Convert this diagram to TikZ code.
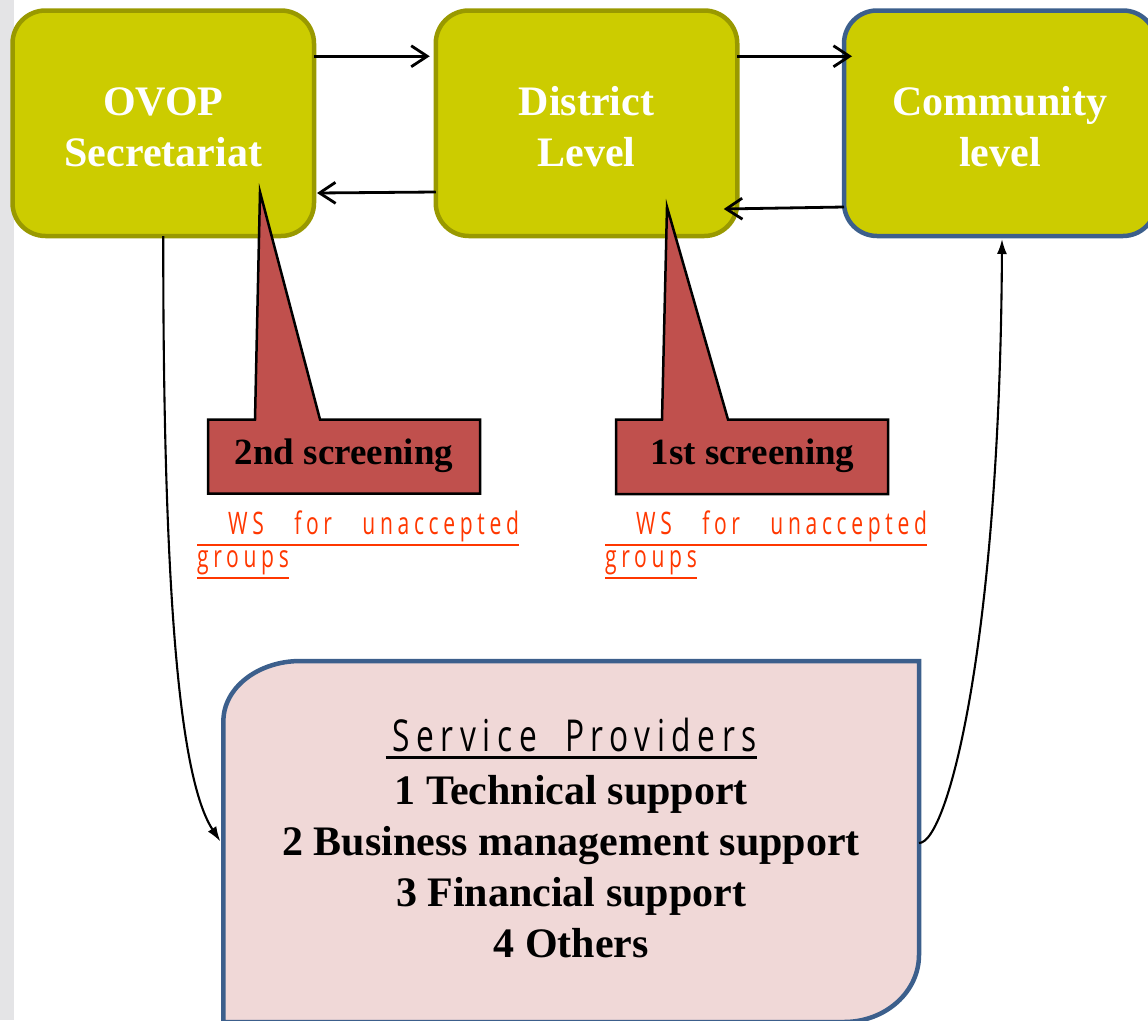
\documentclass[tikz,border=0pt]{standalone}
\usepackage{fontspec}
\setmainfont{Liberation Serif}
\newfontfamily\spfont[FakeStretch=0.72,LetterSpace=15,WordSpace=1.9]{Open Sans}
\newfontfamily\wsfont[FakeStretch=0.68,LetterSpace=15,WordSpace=3.0]{Open Sans}
\usetikzlibrary{arrows.meta,backgrounds}
\definecolor{boxfill}{RGB}{204,204,0}
\definecolor{boxline}{RGB}{153,153,0}
\definecolor{blueline}{RGB}{60,95,140}
\definecolor{callred}{RGB}{192,80,77}
\definecolor{spfill}{RGB}{240,216,215}
\definecolor{wsred}{RGB}{255,55,0}
\definecolor{stripgray}{RGB}{228,228,230}
\newcommand\myul[3][2pt]{\vtop{\hbox{#3}\kern#2\hrule height #1}}
\newcommand\topstrut{\rule{0pt}{35pt}}
\begin{document}
\begin{tikzpicture}[x=1pt,y=-1pt,
  lvl/.style={rounded corners=33pt, line width=4.5pt, fill=boxfill, draw=boxline,
    minimum width=301.5pt, minimum height=225.5pt, text=white,
    font=\bfseries\fontsize{42}{51}\selectfont, align=center, inner sep=0pt, outer sep=0pt},
  flow/.style={line width=2.8pt, -{Straight Barb[length=16pt,width=21pt]}},
  curv/.style={line width=2.1pt, -{Latex[length=15pt,width=10pt]}},
  callout/.style={fill=callred, draw=black, line width=2.5pt, line join=miter},
  calltext/.style={font=\bfseries\fontsize{37}{44}\selectfont, anchor=base, inner sep=0pt},
  wstext/.style={font=\wsfont\fontsize{31}{33}\selectfont, text=wsred, align=left,
    anchor=north west, inner sep=0pt},
  spbox/.style={fill=spfill, draw=blueline, line width=4.5pt}
]
\useasboundingbox (0,0) rectangle (1148,1020);
\fill[stripgray] (0,0) rectangle (14,1020);

\node[lvl] (ovop) at (163.25,123.25) {\topstrut OVOP\\Secretariat};
\node[lvl] (district) at (586.5,123.25) {\topstrut District\\Level};
\node[lvl, draw=blueline, minimum width=312pt] (community) at (1000,123.25) {\topstrut Community\\level};

\draw[flow] ([yshift=67pt]ovop.east) -- ([xshift=-6pt,yshift=67pt]district.west);
\draw[flow] ([yshift=-68.75pt]district.west) -- ([xshift=3pt,yshift=-69.75pt]ovop.east);
\draw[flow] ([yshift=67pt]district.east) -- ([xshift=8pt,yshift=67pt]community.west);
\draw[flow] ([yshift=-83.75pt]community.west) -- ([xshift=-13.5pt,yshift=-85.75pt]district.east);

\draw[callout] (208,419.5) -- (255,419.5) -- (260,192) -- (320,419.5) -- (480,419.5) -- (480,493.5) -- (208,493.5) -- cycle;
\node[calltext] (scr2) at (344,464) {2nd screening};
\draw[callout] (616,419.5) -- (662,419.5) -- (667,207) -- (728,419.5) -- (888,419.5) -- (888,494) -- (616,494) -- cycle;
\node[calltext] (scr1) at (752.5,464) {1st screening};

\node[wstext] (ws2) at (197,511) {\myul[2.5pt]{1.5pt}{\hspace*{31pt}WS for unaccepted}\\\myul[2.5pt]{1.5pt}{groups}};
\node[wstext] (ws1) at (605,511) {\myul[2.5pt]{1.5pt}{\hspace*{31pt}WS for unaccepted}\\\myul[2.5pt]{1.5pt}{groups}};

\node[minimum width=695.6pt, minimum height=361pt, inner sep=0pt, outer sep=0pt, align=center,
  font=\bfseries\fontsize{42}{51}\selectfont] (sp) at (571.2,841.5)
  {{\spfont\mdseries\fontsize{44}{51}\selectfont\myul[3pt]{4pt}{\kern7pt Service Providers}}\\[2pt]
   1 Technical support\\ 2 Business management support\\ 3 Financial support\\ 4 Others\rule[-8pt]{0pt}{8pt}};
\begin{scope}[on background layer]
\draw[spbox] (sp.south west) -- ([yshift=-60pt]sp.north west)
  .. controls ([yshift=-26.9pt]sp.north west) and ([xshift=34.5pt]sp.north west) .. ([xshift=77pt]sp.north west)
  -- (sp.north east) -- ([yshift=67pt]sp.south east)
  .. controls ([yshift=30pt]sp.south east) and ([xshift=-33.6pt]sp.south east) .. ([xshift=-75pt]sp.south east)
  -- cycle;
\end{scope}

\draw[curv] (ovop.south) .. controls (163,600) and (180,780) .. ([xshift=-3pt]sp.west);
\draw[curv] ([yshift=-1.5pt]sp.east) .. controls (948,843) and (1000,640) .. ([xshift=2pt,yshift=-3pt]community.south);
\end{tikzpicture}
\end{document}
